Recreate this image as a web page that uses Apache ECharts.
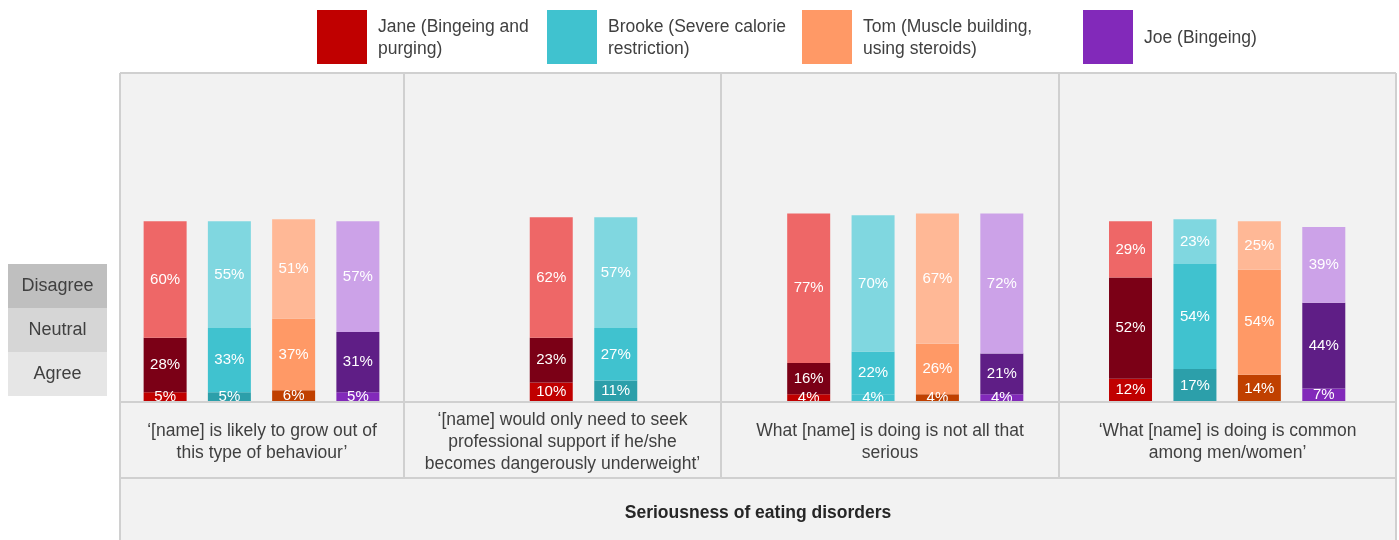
<!DOCTYPE html>
<html>
<head>
<meta charset="utf-8">
<script src="https://cdn.jsdelivr.net/npm/echarts@6/dist/echarts.min.js"></script>
<style>
  html, body { margin: 0; padding: 0; background: #ffffff; }
  #chart { width: 1399px; height: 540px; }
</style>
</head>
<body>
<div id="chart"></div>
<script>
// ---- data ----
const people = ['Jane', 'Brooke', 'Tom', 'Joe'];
const legendLabels = [
  'Jane (Bingeing and\npurging)',
  'Brooke (Severe calorie\nrestriction)',
  'Tom (Muscle building,\nusing steroids)',
  'Joe (Bingeing)'
];
const responses = ['Agree', 'Neutral', 'Disagree'];
const statements = [
  '\u2018[name] is likely to grow out of\nthis type of behaviour\u2019',
  '\u2018[name] would only need to seek\nprofessional support if he/she\nbecomes dangerously underweight\u2019',
  'What [name] is doing is not all that\nserious',
  '\u2018What [name] is doing is common\namong men/women\u2019'
];
const axisTitle = 'Seriousness of eating disorders';
// which people were asked about each statement
const panelPeople = [[0, 1, 2, 3], [0, 1], [0, 1, 2, 3], [0, 1, 2, 3]];
// percentages per statement, in the order of panelPeople
const agree    = [[5, 5, 6, 5],     [10, 11], [4, 4, 4, 4],     [12, 17, 14, 7]];
const neutral  = [[28, 33, 37, 31], [23, 27], [16, 22, 26, 21], [52, 54, 54, 44]];
const disagree = [[60, 55, 51, 57], [62, 57], [77, 70, 67, 72], [29, 23, 25, 39]];

// ---- styling ----
const personColors = [
  { key: '#C00000', Agree: '#C00000', Neutral: '#7B0016', Disagree: '#EE6767' },
  { key: '#40C2CF', Agree: '#2C9FAA', Neutral: '#40C2CF', Disagree: '#80D7E0' },
  { key: '#FF9966', Agree: '#C04000', Neutral: '#FF9966', Disagree: '#FFB896' },
  { key: '#8229BA', Agree: '#8229BA', Neutral: '#5F1E86', Disagree: '#CCA2E8' }
];
// Brooke's agree block in the third panel uses the mid teal
const colorOverride = { '2-1-Agree': '#40C2CF' };

const FONT = '"Liberation Sans", Arial, Helvetica, sans-serif';
const TEXT = '#404040';
const LINE = '#D0D0D0';
const BG = '#F2F2F2';

const boxLeft = 120, boxRight = 1396, boxTop = 73, baseY = 402, labelBottom = 478, boxBottom = 540;
const panelEdges = [120, 404, 721, 1059, 1396];
const grids = [
  { left: 133, width: 257 },
  { left: 519, width: 129 },
  { left: 776.5, width: 257.5 },
  { left: 1098.3, width: 257.7 }
];
const yMax = 169.2;

const values = { Agree: agree, Neutral: neutral, Disagree: disagree };

const option = {
  animation: false,
  backgroundColor: '#ffffff',
  grid: grids.map(g => ({ left: g.left, width: g.width, top: boxTop, height: baseY - boxTop })),
  xAxis: panelPeople.map((pp, i) => ({
    type: 'category', gridIndex: i, data: pp.map(p => people[p]),
    show: false
  })),
  yAxis: panelPeople.map((pp, i) => ({
    type: 'value', gridIndex: i, min: 0, max: yMax, show: false
  })),
  series: [],
  graphic: []
};

panelPeople.forEach((pp, i) => {
  responses.forEach(r => {
    option.series.push({
      type: 'bar',
      name: r,
      xAxisIndex: i,
      yAxisIndex: i,
      stack: 'panel' + i,
      barWidth: 43,
      data: values[r][i].map((v, j) => ({
        value: v,
        itemStyle: { color: colorOverride[i + '-' + j + '-' + r] || personColors[pp[j]][r] }
      })),
      label: {
        show: true,
        position: 'inside',
        formatter: '{c}%',
        color: '#ffffff',
        fontFamily: FONT,
        fontSize: 15
      }
    });
  });
});

const g = option.graphic;
// table background
g.push({ type: 'rect', z: -10, shape: { x: boxLeft, y: boxTop, width: boxRight - boxLeft, height: boxBottom - boxTop }, style: { fill: BG } });
// label row sits above the bars and trims their bottom labels
g.push({ type: 'rect', z: 100, shape: { x: boxLeft, y: baseY, width: boxRight - boxLeft, height: boxBottom - baseY }, style: { fill: BG } });

// grid lines of the table
function line(x1, y1, x2, y2) {
  g.push({ type: 'line', z: 110, shape: { x1, y1, x2, y2 }, style: { stroke: LINE, lineWidth: 2 } });
}
line(boxLeft, boxTop, boxRight, boxTop);
line(boxLeft, baseY, boxRight, baseY);
line(boxLeft, labelBottom, boxRight, labelBottom);
line(boxLeft, boxTop, boxLeft, boxBottom);
line(boxRight, boxTop, boxRight, boxBottom);
[404, 721, 1059].forEach(x => line(x, boxTop, x, labelBottom));

// statement labels under each panel
statements.forEach((s, i) => {
  g.push({
    type: 'text', z: 120,
    style: {
      text: s, x: (panelEdges[i] + panelEdges[i + 1]) / 2, y: 442.5,
      textAlign: 'center', textVerticalAlign: 'middle',
      font: '17.5px ' + FONT, fill: TEXT, lineHeight: 22
    }
  });
});
// axis title
g.push({
  type: 'text', z: 120,
  style: {
    text: axisTitle, x: (boxLeft + boxRight) / 2, y: 513,
    textAlign: 'center', textVerticalAlign: 'middle',
    font: 'bold 17.5px ' + FONT, fill: '#262626'
  }
});

// response key on the left
const keyFills = { Disagree: '#BFBFBF', Neutral: '#D6D6D6', Agree: '#E6E6E6' };
['Disagree', 'Neutral', 'Agree'].forEach((r, k) => {
  const y = 264 + k * 44;
  g.push({ type: 'rect', shape: { x: 8, y: y, width: 99, height: 44 }, style: { fill: keyFills[r] } });
  g.push({
    type: 'text',
    style: { text: r, x: 57.5, y: y + 22, textAlign: 'center', textVerticalAlign: 'middle', font: '18px ' + FONT, fill: TEXT }
  });
});

// person legend across the top
const legendX = [317, 547, 802, 1083];
people.forEach((p, k) => {
  g.push({ type: 'rect', shape: { x: legendX[k], y: 10, width: 50, height: 54 }, style: { fill: personColors[k].key } });
  g.push({
    type: 'text',
    style: {
      text: legendLabels[k], x: legendX[k] + 61, y: 38,
      textAlign: 'left', textVerticalAlign: 'middle',
      font: '17.5px ' + FONT, fill: TEXT, lineHeight: 22
    }
  });
});

const chart = echarts.init(document.getElementById('chart'), null, { renderer: 'canvas' });
chart.setOption(option);
</script>
</body>
</html>
